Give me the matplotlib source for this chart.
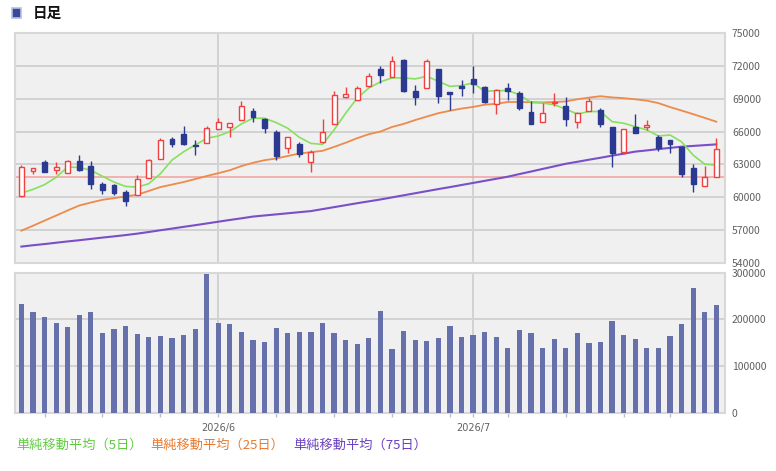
import matplotlib
matplotlib.use("Agg")
import matplotlib.pyplot as plt
from matplotlib.patches import Rectangle
import numpy as np

plt.rcParams["font.family"] = ["Noto Sans CJK JP", "DejaVu Sans"]

# daily OHLC (61 sessions, 2026/5/7 - 2026/7/31)
opens = [60100, 62440, 63180, 62470, 62190, 63300, 62860, 61240, 61090, 60470,
         60220, 61760, 63480, 65290, 65750, 64750, 64980, 66240, 66450, 67070,
         67900, 67130, 65990, 64460, 64860, 63230, 65020, 66700, 69120, 68910,
         70130, 71670, 70960, 72500, 69670, 69980, 71670, 69620, 70200, 70810,
         70080, 68510, 69980, 69520, 67830, 66840, 68600, 68380, 66840, 67900,
         67990, 66400, 64140, 66450, 66450, 65530, 65230, 64610, 62640, 61000,
         61850]
highs = [62950, 62700, 63360, 63180, 63400, 63820, 63300, 61430, 61240, 60630,
         62010, 63480, 65380, 65480, 66520, 65230, 66520, 67220, 66800, 68750,
         68140, 67280, 66150, 65500, 65070, 64300, 67130, 69670, 70080, 70130,
         71360, 71970, 72890, 72650, 70220, 72650, 71700, 69620, 70680, 71960,
         70200, 69890, 70440, 69670, 68750, 68600, 69520, 69160, 67800, 69060,
         68140, 66450, 66250, 67590, 67070, 65690, 65230, 64650, 63060, 62860,
         65380]
lows = [60050, 62160, 62300, 62100, 62190, 62400, 60780, 60320, 60230, 59160,
        60200, 61760, 63480, 64560, 64800, 63850, 64950, 66200, 65530, 67050,
        66910, 65840, 63390, 64000, 63690, 62310, 65000, 66700, 69100, 68900,
        70100, 70450, 70950, 69650, 68450, 69950, 68600, 67990, 69280, 69520,
        68600, 67620, 68910, 67990, 66700, 66840, 68290, 66540, 66300, 67850,
        66400, 62720, 63920, 65850, 66140, 64240, 64060, 61840, 60450, 61000,
        61850]
closes = [62770, 62680, 62310, 62740, 63300, 62470, 61240, 60630, 60380, 59620,
          61700, 63390, 65230, 64860, 64860, 64650, 66360, 66910, 66760, 68380,
          67370, 66360, 63760, 65480, 63910, 64150, 65990, 69300, 69430, 69980,
          71050, 71120, 72430, 69670, 69120, 72430, 69280, 69430, 69950, 70380,
          68660, 69830, 69670, 68140, 66700, 67700, 68700, 67160, 67740, 68820,
          66700, 64060, 66210, 65900, 66600, 64460, 64830, 62150, 61230, 61850,
          64370]

ma5 = [60380, 60720, 61150, 61820, 62770, 62720, 62470, 61920, 61390, 60990,
       60930, 61240, 62150, 63390, 64150, 64770, 65380, 65600, 65990, 66700,
       67220, 67220, 66820, 66300, 65480, 64920, 64830, 66150, 67680, 69060,
       69980, 70540, 70900, 70900, 70810, 71050, 70590, 70130, 70200, 70440,
       69670, 69740, 69740, 69370, 68660, 68600, 68450, 68050, 67600, 67830,
       67830, 66910, 66760, 66450, 66150, 65600, 65690, 65070, 63850, 63020,
       62930]
ma25 = [56950, 57400, 57870, 58330, 58800, 59250, 59520, 59770, 59920, 60080,
        60230, 60580, 60930, 61160, 61390, 61660, 61940, 62200, 62470, 62850,
        63150, 63390, 63540, 63770, 64000, 64120, 64240, 64600, 64980, 65400,
        65760, 66000, 66420, 66700, 67050, 67370, 67680, 67900, 68100, 68250,
        68450, 68540, 68700, 68700, 68680, 68660, 68700, 68750, 68950, 69100,
        69230, 69120, 69050, 68950, 68820, 68600, 68240, 67920, 67590, 67250,
        66900]
ma75 = [55500, 55620, 55730, 55850, 55970, 56080, 56200, 56320, 56430, 56550,
        56680, 56830, 56990, 57140, 57300, 57450, 57610, 57770, 57930, 58080,
        58240, 58340, 58440, 58540, 58640, 58740, 58920, 59100, 59280, 59460,
        59630, 59800, 59990, 60180, 60370, 60560, 60750, 60930, 61120, 61310,
        61500, 61690, 61880, 62120, 62350, 62590, 62820, 63060, 63240, 63430,
        63610, 63800, 63980, 64170, 64280, 64400, 64510, 64620, 64690, 64760,
        64830]

volumes = [232100, 215000, 204300, 191400, 182900, 208600, 215000, 170000, 178600, 185000,
           167900, 161500, 163600, 159300, 165700, 178600, 296400, 191400, 189300, 172200,
           155000, 150700, 180700, 170000, 172200, 172200, 191400, 170000, 155000, 146500,
           159300, 217100, 135800, 174300, 155000, 152900, 159300, 185000, 161500, 165700,
           172200, 161500, 137900, 176400, 170000, 137900, 157200, 137900, 170000, 148600,
           150700, 195700, 165700, 157200, 137900, 137900, 163600, 189300, 266400, 215000,
           230000]

ref_line = 61850
month_starts = [17, 39]
month_labels = ["2026/6", "2026/7"]
week_ticks = [2, 7, 12, 17, 22, 27, 32, 37, 39, 42, 47, 52, 56]

UP = "#f04040"
DOWN = "#2b3990"
BG = "#f0f0f0"
GRID = "#d2d2d2"
TXT = "#606060"

fig = plt.figure(figsize=(7.76, 4.71), dpi=100)
W, H = 776, 471


def add_panel(left, top, right, bottom):
    return fig.add_axes([left / W, 1 - bottom / H, (right - left) / W, (bottom - top) / H])


ax = add_panel(15, 33, 725, 263)
axv = add_panel(15, 272.7, 725, 412.7)

x = np.arange(len(closes))
xlim = (-0.55, 60.75)

for a in (ax, axv):
    a.set_facecolor(BG)
    a.set_xlim(*xlim)
    for s in a.spines.values():
        s.set_color("#d8d8d8")
        s.set_linewidth(1.5)
    a.yaxis.tick_right()
    a.tick_params(axis="y", length=0, labelsize=7.5, labelcolor=TXT, pad=5)
    a.grid(axis="y", color=GRID, lw=1.4)
    for m in month_starts:
        a.axvline(m, color="#cccccc", lw=1.2, zorder=0.5)
    a.set_axisbelow(True)

# price panel
ax.set_ylim(54000, 75000)
ax.set_yticks(np.arange(54000, 75001, 3000))
ax.set_yticklabels([str(v) for v in range(54000, 75001, 3000)])
ax.set_xticks([])

ax.axhline(ref_line, color="#f4a0a0", lw=1.1, zorder=1)
ax.plot(x, ma75, color="#7a4fc8", lw=1.5, zorder=2)
ax.plot(x, ma25, color="#ee8a4a", lw=1.3, zorder=2)
ax.plot(x, ma5, color="#88e060", lw=1.2, zorder=2)

bw = 0.42
for i in range(len(closes)):
    o, h, l, c = opens[i], highs[i], lows[i], closes[i]
    up = c >= o
    col = UP if up else DOWN
    ax.vlines(i, l, h, color=col, lw=1.0, zorder=3)
    lo, hi = min(o, c), max(o, c)
    if hi - lo < 60:
        hi = lo + 60
    if up:
        ax.add_patch(Rectangle((i - bw / 2, lo), bw, hi - lo, facecolor="white",
                               edgecolor=col, lw=1.0, zorder=4))
    else:
        ax.add_patch(Rectangle((i - bw / 2, lo), bw, hi - lo, facecolor=col,
                               edgecolor=col, lw=1.0, zorder=4))

# volume panel
axv.bar(x, volumes, width=0.45, color="#6670aa", zorder=3)
axv.set_ylim(0, 300000)
axv.set_yticks([0, 100000, 200000, 300000])
axv.set_yticklabels(["0", "100000", "200000", "300000"])
axv.set_xticks(week_ticks)
axv.set_xticklabels(["" for _ in week_ticks])
axv.tick_params(axis="x", length=3, color="#c0c0c0", width=1)
for m, lab in zip(month_starts, month_labels):
    axv.text(m, -0.07, lab, transform=axv.get_xaxis_transform(), ha="center", va="top",
             fontsize=7, color=TXT, family="DejaVu Sans")

# header
fig.patches.append(Rectangle((12 / W, 1 - 18 / H), 9 / W, 10 / H, transform=fig.transFigure,
                             facecolor="#3a4a9a", edgecolor="#b8c0e0", lw=1.2))
fig.text(33 / W, 1 - 13 / H, "日足", fontsize=10.5, fontweight="bold", va="center", ha="left",
         color="#111111")

# legend labels
legend_items = [("単純移動平均（5日）", "#60cc40", 16),
                ("単純移動平均（25日）", "#e87a30", 150),
                ("単純移動平均（75日）", "#6a40c0", 293)]
for label, col, px in legend_items:
    fig.text(px / W, 1 - 445 / H, label, fontsize=9.5, color=col, va="center", ha="left")

fig.savefig("out.png", dpi=100, facecolor="white")
